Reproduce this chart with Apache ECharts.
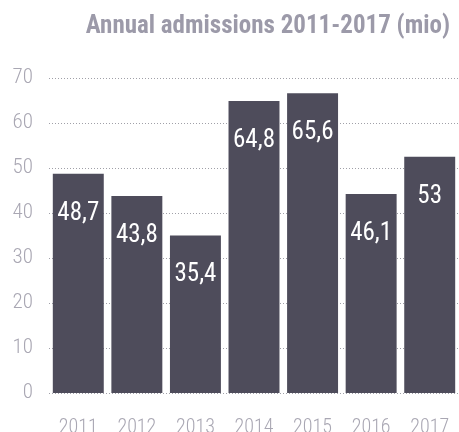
<!DOCTYPE html>
<html><head><meta charset="utf-8">
<script src="https://cdn.jsdelivr.net/npm/echarts@6/dist/echarts.min.js"></script>
<style>html,body{margin:0;padding:0;background:#fff}#c{width:459px;height:432px}</style>
</head><body><div id="c"></div>
<script>
const categories = ['2011','2012','2013','2014','2015','2016','2017'];
const barHeights = [48.7, 43.8, 35.0, 64.9, 66.6, 44.2, 52.5];
const barLabels = ['48,7','43,8','35,4','64,8','65,6','46,1','53'];
const yTicks = [0,10,20,30,40,50,60,70];
const titleText = 'Annual admissions 2011-2017 (mio)';

const cond = '"Roboto Condensed", "Open Sans Condensed", sans-serif';
const chart = echarts.init(document.getElementById('c'), null, {renderer:'canvas'});
chart.setOption({
  animation:false,
  title:{text:titleText, right:4, top:9, textStyle:{fontFamily:cond, fontWeight:'bold', fontSize:25, color:'#9c9aa9'}},
  grid:{left:49, right:0, top:78, bottom:39, containLabel:false, outerBoundsMode:'none'},
  xAxis:{type:'category', data:categories, axisLine:{show:false}, axisTick:{show:false},
    axisLabel:{interval:0, color:'#a9a7b3', fontFamily:cond, fontWeight:300, fontSize:20, margin:25}},
  yAxis:{type:'value', min:yTicks[0], max:yTicks[yTicks.length-1], interval:10,
    axisLine:{show:false}, axisTick:{show:false},
    axisLabel:{color:'#a9a7b3', fontFamily:cond, fontWeight:300, fontSize:21, margin:16},
    splitLine:{lineStyle:{type:[1,2], color:'#a0a0a8', width:1}}},
  series:[{type:'bar', data:barHeights, barCategoryGap:'13%',
    itemStyle:{color:'#4e4c5b'},
    label:{show:true, position:'insideTop', distance:27, color:'#fff', fontFamily:cond, fontSize:25,
      formatter:p=>barLabels[p.dataIndex]}}]
});
</script></body></html>
